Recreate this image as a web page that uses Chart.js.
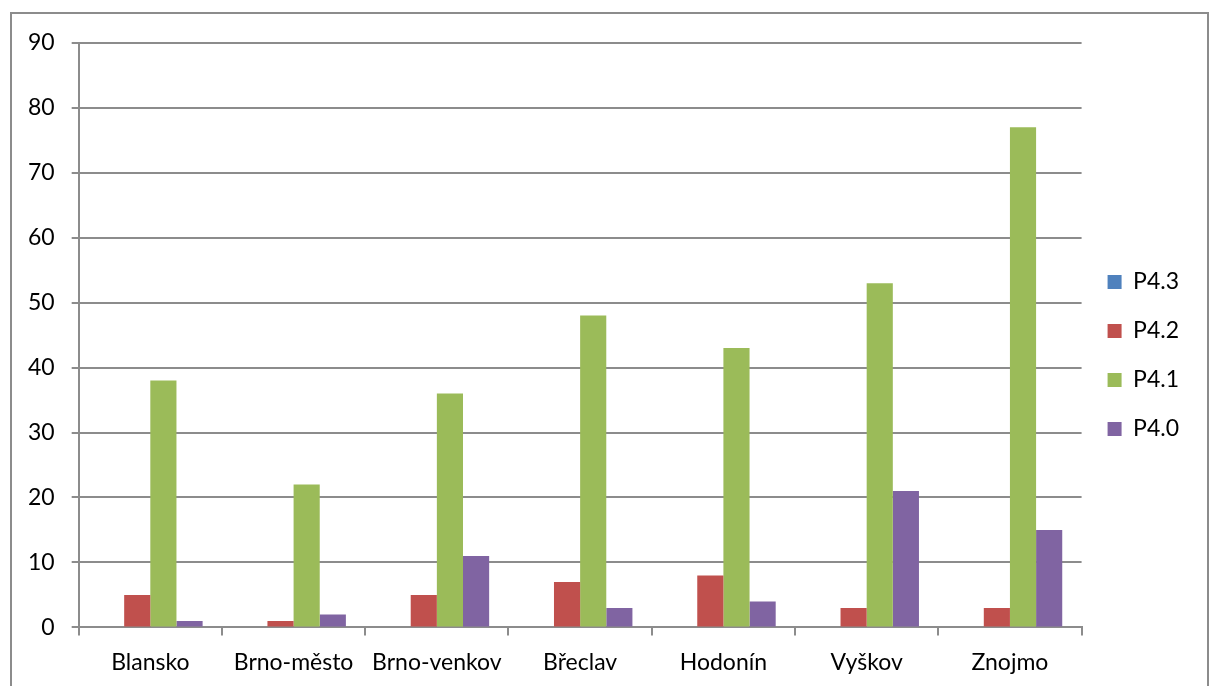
<!DOCTYPE html>
<html>
<head>
<meta charset="utf-8">
<script src="https://cdn.jsdelivr.net/npm/chart.js@4/dist/chart.umd.min.js"></script>
<style>
  html, body { margin: 0; padding: 0; background: #fff; overflow: hidden; }
  #frame {
    position: absolute; left: 10px; top: 12px;
    width: 1195px; height: 690px;
    border: 2px solid #8c8c8c; border-bottom: none;
  }
  #wrap { position: absolute; left: -8px; top: -2px; width: 1203px; height: 682px; }
</style>
</head>
<body>
<div id="frame"><div id="wrap"><canvas id="c"></canvas></div></div>
<script>
// categories and series
const districts = ['Blansko', 'Brno-město', 'Brno-venkov', 'Břeclav', 'Hodonín', 'Vyškov', 'Znojmo']
const p43 = [0, 0, 0, 0, 0, 0, 0]
const p42 = [5, 1, 5, 7, 8, 3, 3]
const p41 = [38, 22, 36, 48, 43, 53, 77]
const p40 = [1, 2, 11, 3, 4, 21, 15]
const yTicks = [0, 10, 20, 30, 40, 50, 60, 70, 80, 90]

const GRID = '#8c8c8c'
const FONT = { family: 'Lato, "Open Sans", sans-serif', size: 23 }

Chart.defaults.font.family = FONT.family
Chart.defaults.color = '#000'

const bar = (label, data, color) => ({
  label, data,
  backgroundColor: color,
  borderWidth: 0,
  categoryPercentage: 0.73,
  barPercentage: 1,
})

// the legend sits a bit above the middle of the frame, like in the original
const nudgeLegend = {
  id: 'nudgeLegend',
  afterLayout(chart) {
    chart.legend.top -= 7
    chart.legend.bottom -= 7
  },
}

new Chart(document.getElementById('c'), {
  type: 'bar',
  data: {
    labels: districts,
    datasets: [
      bar('P4.3', p43, '#4f81bd'),
      bar('P4.2', p42, '#c0504d'),
      bar('P4.1', p41, '#9bbb59'),
      bar('P4.0', p40, '#8064a2'),
    ],
  },
  options: {
    responsive: true,
    maintainAspectRatio: false,
    animation: false,
    layout: { padding: { top: 24, left: 7, right: 18, bottom: 5 } },
    plugins: {
      tooltip: { enabled: false },
      legend: {
        position: 'right',
        labels: {
          boxWidth: 14, boxHeight: 14, padding: 26,
          font: FONT, color: '#000',
        },
      },
    },
    scales: {
      x: {
        grid: { offset: true, drawOnChartArea: false, drawTicks: true, tickLength: 8, color: GRID, lineWidth: 2 },
        border: { color: GRID, width: 2 },
        ticks: { font: FONT, color: '#000', padding: 13, maxRotation: 0 },
      },
      y: {
        min: 0, max: 90,
        afterBuildTicks: axis => { axis.ticks = yTicks.map(v => ({ value: v })) },
        grid: { color: GRID, lineWidth: 2, tickLength: 7 },
        border: { color: GRID, width: 2 },
        ticks: { font: FONT, color: '#000', padding: 17 },
      },
    },
  },
  plugins: [nudgeLegend],
})
</script>
</body>
</html>
